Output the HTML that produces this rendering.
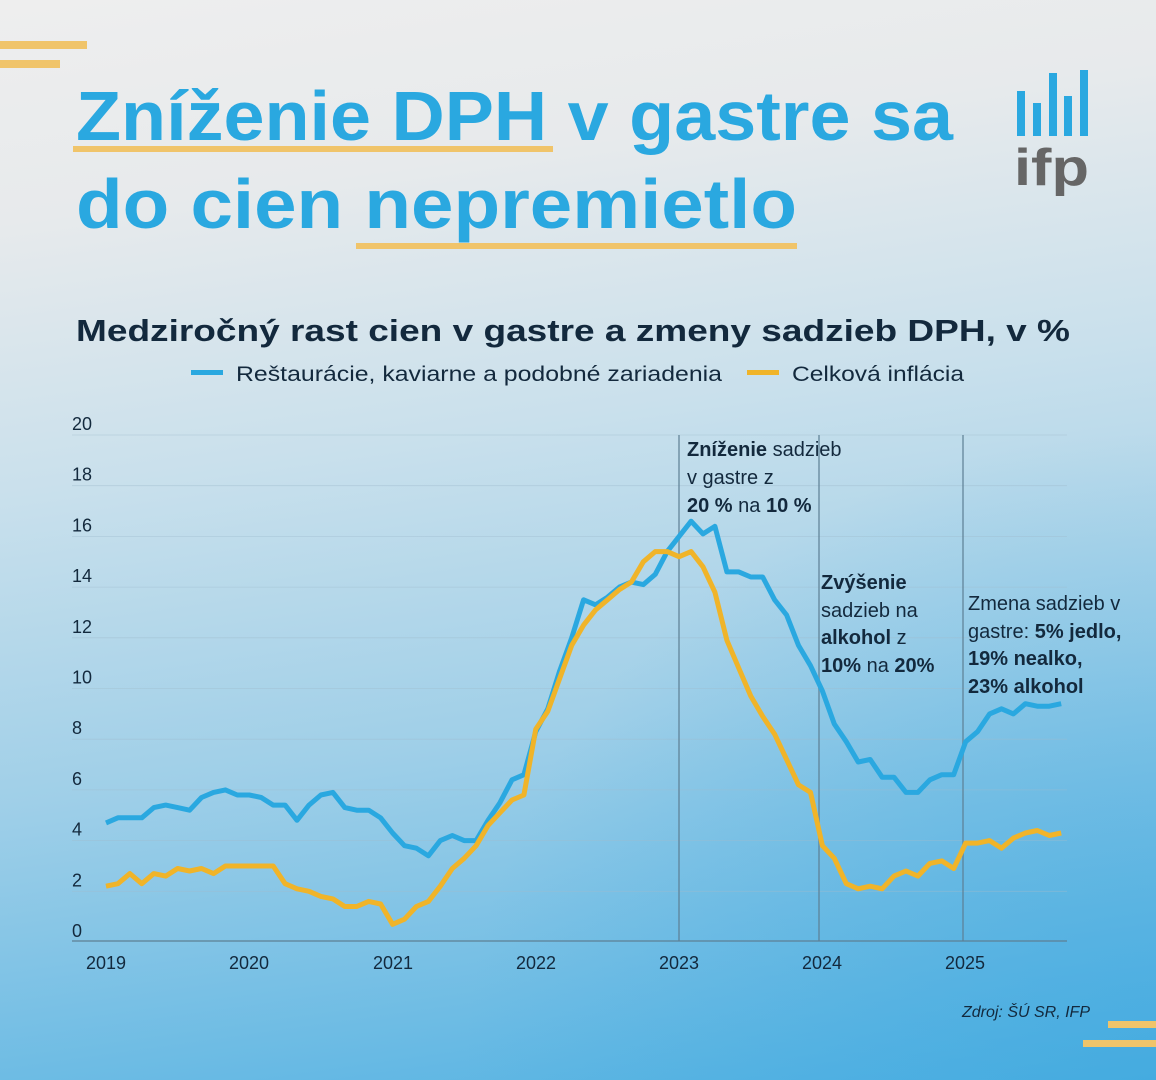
<!DOCTYPE html>
<html><head><meta charset="utf-8"><style>
html,body{margin:0;padding:0}
body{width:1156px;height:1080px;overflow:hidden;background:linear-gradient(172deg,#eeeeee 0%,#e7eaec 18%,#c9e0ec 40%,#9fcfe8 65%,#6bbbe4 88%,#4eb0e2 100%);font-family:"Liberation Sans",sans-serif}
</style></head><body>
<svg id="s" width="1156" height="1080" xmlns="http://www.w3.org/2000/svg" style="position:absolute;left:0;top:0">
<defs><radialGradient id="rg" cx="1" cy="1" r="0.6"><stop offset="0" stop-color="#3ea8df" stop-opacity="0.6"/><stop offset="1" stop-color="#3ea8df" stop-opacity="0"/></radialGradient></defs>
<rect width="1156" height="1080" fill="url(#rg)"/>
<rect x="0" y="41" width="87" height="8" fill="#f0c46a"/>
<rect x="0" y="60" width="60" height="8" fill="#f0c46a"/>
<rect x="1108" y="1021" width="48" height="7" fill="#f0c46a"/>
<rect x="1083" y="1040" width="73" height="7" fill="#f0c46a"/>
<rect x="73" y="146" width="480" height="6" fill="#f0c46a"/>
<rect x="356" y="243" width="441" height="6" fill="#f0c46a"/>
<g font-weight="bold" fill="#2aa8e0" font-size="70">
<text x="76" y="140" textLength="877" lengthAdjust="spacingAndGlyphs">Zníženie DPH v gastre sa</text>
<text x="76" y="228" textLength="721" lengthAdjust="spacingAndGlyphs">do cien nepremietlo</text>
</g>
<g fill="#2aa8e0">
<rect x="1017" y="91" width="8" height="45"/><rect x="1033" y="103" width="8" height="33"/><rect x="1049" y="73" width="8" height="63"/><rect x="1064" y="96" width="8" height="40"/><rect x="1080" y="70" width="8" height="66"/>
</g>
<text x="1014" y="185" font-size="52" font-weight="bold" fill="#666" textLength="75" lengthAdjust="spacingAndGlyphs">ifp</text>
<text x="76" y="341" font-size="31" font-weight="bold" fill="#13293d" textLength="994" lengthAdjust="spacingAndGlyphs">Medziročný rast cien v gastre a zmeny sadzieb DPH, v %</text>
<rect x="191" y="370" width="32" height="5" fill="#2aa8e0"/>
<text x="236" y="381" font-size="21" fill="#13293d" textLength="486" lengthAdjust="spacingAndGlyphs">Reštaurácie, kaviarne a podobné zariadenia</text>
<rect x="747" y="370" width="32" height="5" fill="#f0b429"/>
<text x="792" y="381" font-size="21" fill="#13293d" textLength="172" lengthAdjust="spacingAndGlyphs">Celková inflácia</text>
<g id="grid" stroke="#9fbccd" stroke-width="0.8" opacity="0.5"></g>
<line x1="72" y1="941" x2="1067" y2="941" stroke="#5d7f94" stroke-width="1.2"/>
<g stroke="#5d7f94" stroke-width="2" opacity="0.6">
<line x1="679" y1="435" x2="679" y2="941"/><line x1="819" y1="435" x2="819" y2="941"/><line x1="963" y1="435" x2="963" y2="941"/>
</g>
<g id="yl" font-size="18" fill="#13293d"></g>
<g font-size="18" fill="#13293d" text-anchor="middle">
<text x="106" y="969">2019</text><text x="249" y="969">2020</text><text x="393" y="969">2021</text><text x="536" y="969">2022</text><text x="679" y="969">2023</text><text x="822" y="969">2024</text><text x="965" y="969">2025</text>
</g>
<polyline id="bl" fill="none" stroke="#2aa8e0" stroke-width="5" stroke-linejoin="round"/>
<polyline id="or" fill="none" stroke="#f0b429" stroke-width="5" stroke-linejoin="round"/>
<g font-size="20" fill="#13293d">
<text x="687" y="456"><tspan font-weight="bold">Zníženie</tspan> sadzieb</text>
<text x="687" y="484">v gastre z</text>
<text x="687" y="512"><tspan font-weight="bold">20 %</tspan> na <tspan font-weight="bold">10 %</tspan></text>
<text x="821" y="589" font-weight="bold">Zvýšenie</text>
<text x="821" y="617">sadzieb na</text>
<text x="821" y="644"><tspan font-weight="bold">alkohol</tspan> z</text>
<text x="821" y="672"><tspan font-weight="bold">10%</tspan> na <tspan font-weight="bold">20%</tspan></text>
<text x="968" y="610">Zmena sadzieb v</text>
<text x="968" y="638">gastre: <tspan font-weight="bold">5% jedlo,</tspan></text>
<text x="968" y="665" font-weight="bold">19% nealko,</text>
<text x="968" y="693" font-weight="bold">23% alkohol</text>
</g>
<text x="1090" y="1017" font-size="16" font-style="italic" fill="#13293d" text-anchor="end">Zdroj: ŠÚ SR, IFP</text>
</svg>
<script>
var y=function(v){return 942-25.35*v};
var g=document.getElementById('grid'),yl=document.getElementById('yl'),ns='http://www.w3.org/2000/svg';
for(var v=2;v<=20;v+=2){var l=document.createElementNS(ns,'line');l.setAttribute('x1',72);l.setAttribute('x2',1067);l.setAttribute('y1',y(v));l.setAttribute('y2',y(v));g.appendChild(l);}
for(var v=0;v<=20;v+=2){var t=document.createElementNS(ns,'text');t.setAttribute('x',72);t.setAttribute('y',y(v)-5);t.textContent=v;yl.appendChild(t);}
var B=[4.7,4.9,4.9,4.9,5.3,5.4,5.3,5.2,5.7,5.9,6.0,5.8,
5.8,5.7,5.4,5.4,4.8,5.4,5.8,5.9,5.3,5.2,5.2,4.9,
4.3,3.8,3.7,3.4,4.0,4.2,4.0,4.0,4.8,5.5,6.4,6.6,
8.3,9.2,10.7,12.0,13.5,13.3,13.6,14.0,14.2,14.1,14.5,15.4,
16.0,16.6,16.1,16.4,14.6,14.6,14.4,14.4,13.5,12.9,11.7,10.9,
9.9,8.6,7.9,7.1,7.2,6.5,6.5,5.9,5.9,6.4,6.6,6.6,
7.9,8.3,9.0,9.2,9.0,9.4,9.3,9.3,9.4];
var O=[2.2,2.3,2.7,2.3,2.7,2.6,2.9,2.8,2.9,2.7,3.0,3.0,
3.0,3.0,3.0,2.3,2.1,2.0,1.8,1.7,1.4,1.4,1.6,1.5,
0.7,0.9,1.4,1.6,2.2,2.9,3.3,3.8,4.6,5.1,5.6,5.8,
8.4,9.1,10.4,11.7,12.5,13.1,13.5,13.9,14.2,15.0,15.4,15.4,
15.2,15.4,14.8,13.8,11.9,10.8,9.7,8.9,8.2,7.2,6.2,5.9,
3.8,3.3,2.3,2.1,2.2,2.1,2.6,2.8,2.6,3.1,3.2,2.9,
3.9,3.9,4.0,3.7,4.1,4.3,4.4,4.2,4.3];
function pts(a){return a.map(function(v,i){return (106+i*11.94).toFixed(1)+','+y(v).toFixed(1)}).join(' ')}
document.getElementById('bl').setAttribute('points',pts(B));
document.getElementById('or').setAttribute('points',pts(O));
</script>
</body></html>
